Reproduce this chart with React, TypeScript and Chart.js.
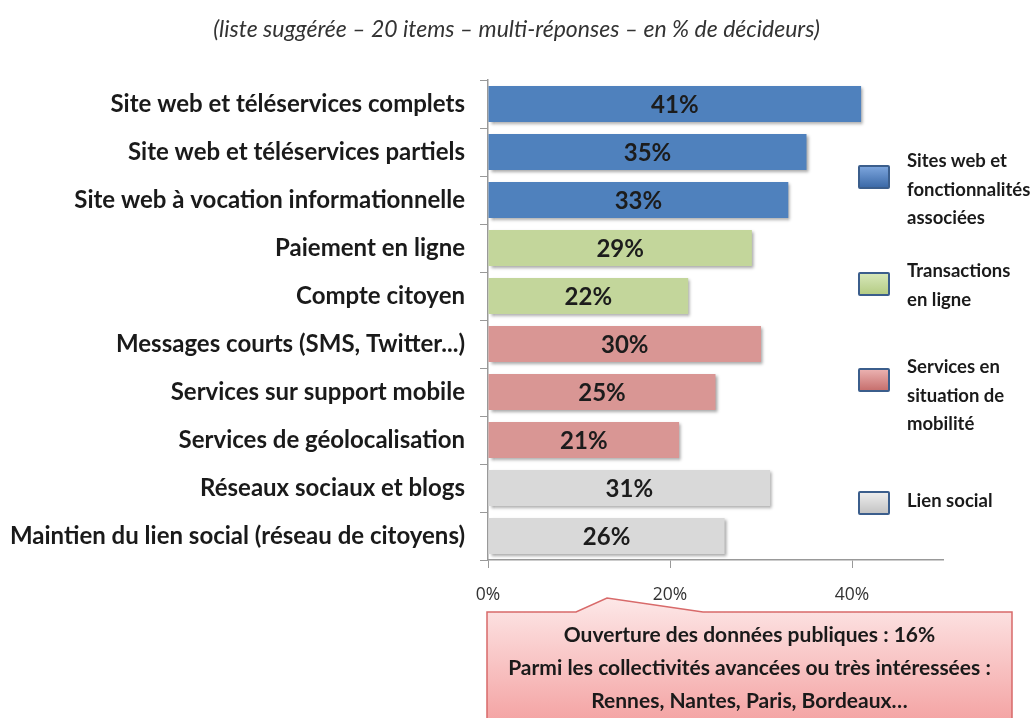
import React, { useEffect, useRef } from "react";
import { Chart, registerables } from "chart.js";

Chart.register(...registerables);

const titleText = "(liste suggérée – 20 items – multi-réponses – en % de décideurs)";
const categories = [
  "Site web et téléservices complets",
  "Site web et téléservices partiels",
  "Site web à vocation informationnelle",
  "Paiement en ligne",
  "Compte citoyen",
  "Messages courts (SMS, Twitter...)",
  "Services sur support mobile",
  "Services de géolocalisation",
  "Réseaux sociaux et blogs",
  "Maintien du lien social (réseau de citoyens)",
];
const values = [41, 35, 33, 29, 22, 30, 25, 21, 31, 26];
const groupOfCategory = [0, 0, 0, 1, 1, 2, 2, 2, 3, 3];
const groupNames = [
  "Sites web et fonctionnalités associées",
  "Transactions en ligne",
  "Services en situation de mobilité",
  "Lien social",
];
const groupLegendLines = [
  ["Sites web et", "fonctionnalités", "associées"],
  ["Transactions", "en ligne"],
  ["Services en", "situation de", "mobilité"],
  ["Lien social"],
];
const groupColors = ["#4f81bd", "#c3d69b", "#d99694", "#d9d9d9"];
const groupGradients = [
  ["#7ba4dc", "#3c6aa8"],
  ["#d6e7b8", "#b5cc85"],
  ["#eab0af", "#c7706e"],
  ["#ececec", "#c4c4c4"],
];
const xTicks = [0, 20, 40];
const xMax = 50;
const calloutLines = [
  "Ouverture des données publiques : 16%",
  "Parmi les collectivités avancées ou très intéressées :",
  "Rennes, Nantes, Paris, Bordeaux…",
];

const FONT = "Lato, 'Open Sans', sans-serif";

const shadowPlugin = {
  id: "barShadow",
  beforeDatasetsDraw(chart: any) {
    const ctx = chart.ctx;
    ctx.save();
    ctx.shadowColor = "rgba(0,0,0,0.35)";
    ctx.shadowOffsetX = 2;
    ctx.shadowOffsetY = 2;
    ctx.shadowBlur = 3;
  },
  afterDatasetsDraw(chart: any) {
    chart.ctx.restore();
  },
};

const labelPlugin = {
  id: "barLabels",
  afterDatasetsDraw(chart: any) {
    const ctx = chart.ctx;
    ctx.save();
    ctx.font = `bold 24px ${FONT}`;
    ctx.fillStyle = "#1c1c1c";
    ctx.textAlign = "center";
    ctx.textBaseline = "middle";
    chart.data.datasets.forEach((ds: any, di: number) => {
      const meta = chart.getDatasetMeta(di);
      meta.data.forEach((bar: any, i: number) => {
        const v = ds.data[i];
        if (v == null) return;
        const p = bar.getProps(["x", "y", "base"], true);
        ctx.fillText(v + "%", (p.x + p.base) / 2, p.y + 1);
      });
    });
    ctx.restore();
  },
};

export default function App() {
  const canvasRef = useRef<HTMLCanvasElement | null>(null);

  useEffect(() => {
    if (!canvasRef.current) return;
    const datasets = groupNames.map((name, g) => ({
      label: name,
      data: values.map((v, i) => (groupOfCategory[i] === g ? v : null)),
      backgroundColor: groupColors[g],
      borderWidth: 0,
      barPercentage: 0.75,
      categoryPercentage: 1,
    }));
    const chart = new Chart(canvasRef.current, {
      type: "bar",
      data: { labels: categories, datasets },
      plugins: [shadowPlugin, labelPlugin],
      options: {
        indexAxis: "y",
        animation: false,
        responsive: true,
        maintainAspectRatio: false,
        layout: { padding: { left: 0, right: 92, top: 80, bottom: 98 } },
        plugins: {
          legend: { display: false },
          tooltip: { enabled: false },
          title: { display: false },
        },
        scales: {
          x: {
            stacked: true,
            min: 0,
            max: xMax,
            afterBuildTicks: (scale: any) => {
              scale.ticks = xTicks.map((v) => ({ value: v }));
            },
            afterFit: (scale: any) => {
              scale.height = 60;
            },
            grid: { drawOnChartArea: false, drawTicks: true, tickLength: 8, color: "#999999" },
            border: { color: "#999999", width: 1.5 },
            ticks: {
              padding: 17,
              color: "#333333",
              font: { family: "'Open Sans', sans-serif", size: 17.5 },
              callback: (v: any) => v + "%",
            },
          },
          y: {
            stacked: true,
            afterFit: (scale: any) => {
              scale.width = 488;
            },
            grid: { drawOnChartArea: false, drawTicks: true, tickLength: 8, color: "#999999", offset: true },
            border: { color: "#999999", width: 1.5 },
            ticks: {
              padding: 15,
              color: "#1a1a1a",
              font: { family: FONT, size: 24, weight: "bold" },
            },
          },
        },
      },
    } as any);
    return () => chart.destroy();
  }, []);

  const legendTops = [146, 256, 352, 486];
  const boxTops = [165, 272, 368, 491];

  return (
    <div style={{ position: "absolute", left: 0, top: 0, width: 1035, height: 718, overflow: "hidden", background: "#fff" }}>
      <canvas ref={canvasRef} />
      <div
        style={{
          position: "absolute",
          left: 0,
          width: 1033,
          top: 14,
          textAlign: "center",
          fontFamily: FONT,
          fontStyle: "italic",
          fontSize: 23,
          lineHeight: "28px",
          color: "#333333",
          whiteSpace: "nowrap",
        }}
      >
        {titleText}
      </div>
      {groupNames.map((n, g) => (
        <div key={n}>
          <div
            style={{
              position: "absolute",
              left: 858,
              top: boxTops[g],
              width: 28,
              height: 20,
              border: "2px solid #3b5e8c",
              borderRadius: 2,
              background: `linear-gradient(${groupGradients[g][0]}, ${groupGradients[g][1]})`,
            }}
          />
          <div
            style={{
              position: "absolute",
              left: 907,
              top: legendTops[g],
              fontFamily: FONT,
              fontWeight: "bold",
              fontSize: 18.5,
              lineHeight: "28.5px",
              color: "#1a1a1a",
              whiteSpace: "nowrap",
            }}
          >
            {groupLegendLines[g].map((l) => (
              <div key={l}>{l}</div>
            ))}
          </div>
        </div>
      ))}
      <svg style={{ position: "absolute", left: 0, top: 0 }} width={1035} height={718}>
        <defs>
          <linearGradient id="calloutGrad" x1="0" y1="0" x2="0" y2="1">
            <stop offset="0" stopColor="#fde8e8" />
            <stop offset="1" stopColor="#f4a3a3" />
          </linearGradient>
        </defs>
        <path
          d="M487,612 L576,612 L607,598 L703,612 L1012,612 L1012,722 L487,722 Z"
          fill="url(#calloutGrad)"
          stroke="#d86a6a"
          strokeWidth={1.5}
        />
      </svg>
      <div
        style={{
          position: "absolute",
          left: 487,
          width: 525,
          top: 617,
          textAlign: "center",
          fontFamily: FONT,
          fontWeight: "bold",
          fontSize: 21,
          lineHeight: "33px",
          color: "#1a1a1a",
          whiteSpace: "nowrap",
        }}
      >
        {calloutLines.map((l) => (
          <div key={l}>{l}</div>
        ))}
      </div>
    </div>
  );
}
